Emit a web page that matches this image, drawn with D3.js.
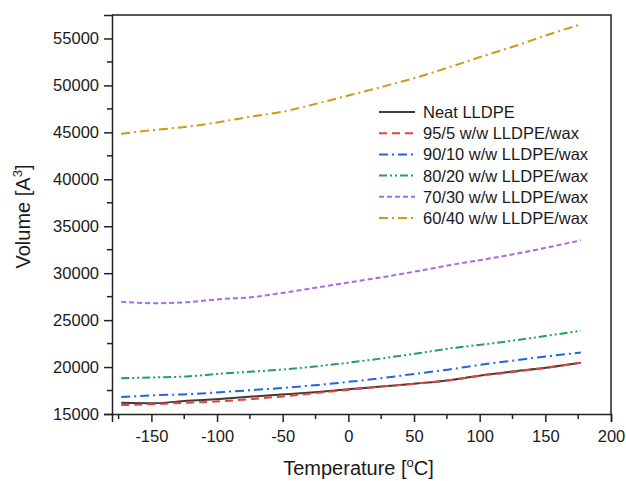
<!DOCTYPE html>
<html>
<head>
<meta charset="utf-8">
<script src="https://cdn.jsdelivr.net/npm/d3@7"></script>
<style>
  html, body { margin: 0; padding: 0; background: #fff; }
  svg { display: block; font-family: "Liberation Sans", Arial, sans-serif; }
</style>
</head>
<body>
<svg id="chart" width="626" height="481"></svg>
<script>
// Temperature grid (100 K to 450 K, in °C)
const temps = [-173, -148, -123, -98, -73, -48, -23, 2, 27, 52, 77, 102, 127, 152, 177];

// Cell volume (Å^3) for each blend
const neat = [16200, 16150, 16400, 16600, 16860, 17100, 17350, 17650, 17950, 18250, 18600, 19130, 19550, 19950, 20450];
const w95  = [15950, 16050, 16200, 16350, 16600, 16900, 17250, 17600, 17950, 18250, 18600, 19100, 19500, 19950, 20450];
const w90  = [16800, 17000, 17100, 17320, 17550, 17800, 18100, 18450, 18850, 19300, 19750, 20270, 20720, 21150, 21550];
const w80  = [18800, 18900, 19000, 19280, 19520, 19760, 20100, 20500, 20950, 21450, 21980, 22400, 22850, 23350, 23870];
const w70  = [26950, 26800, 26900, 27230, 27450, 27950, 28500, 29050, 29600, 30200, 30850, 31430, 32050, 32750, 33500];
const w60  = [44850, 45250, 45600, 46100, 46700, 47250, 48100, 49000, 49900, 50850, 51950, 53100, 54200, 55400, 56500];

const seriesLabels = ["Neat LLDPE", "95/5 w/w LLDPE/wax", "90/10 w/w LLDPE/wax",
                      "80/20 w/w LLDPE/wax", "70/30 w/w LLDPE/wax", "60/40 w/w LLDPE/wax"];
const seriesValues = [neat, w95, w90, w80, w70, w60];

const xTicks = [-150, -100, -50, 0, 50, 100, 150, 200];
const yTicks = [15000, 20000, 25000, 30000, 35000, 40000, 45000, 50000, 55000];

// Line styling per series
const styles = [
  { color: "#3c3c3c", dash: null },
  { color: "#e8423f", dash: "8,5" },
  { color: "#1f66e0", dash: "9,4,2,4" },
  { color: "#23a05a", dash: "8,3,2,3,2,3" },
  { color: "#a86be3", dash: "5,3" },
  { color: "#d09a12", dash: "9,4,2,4" }
];

const margin = { left: 112, right: 15, top: 15, bottom: 67 };
const W = 626, H = 481;
const svg = d3.select("#chart");

const x = d3.scaleLinear().domain([-180, 200]).range([margin.left, W - margin.right]);
const y = d3.scaleLinear().domain([15000, 57500]).range([H - margin.bottom, margin.top]);

const axisColor = "#222";
const fontSize = "16.5px";

// Data lines
const line = d3.line().x((d, i) => x(temps[i])).y(d => y(d)).curve(d3.curveMonotoneX);
const plot = svg.append("g");
seriesValues.forEach((vals, k) => {
  plot.append("path")
    .datum(vals)
    .attr("d", line)
    .attr("fill", "none")
    .attr("stroke", styles[k].color)
    .attr("stroke-width", 2)
    .attr("stroke-dasharray", styles[k].dash);
});

// Frame (top and right borders)
svg.append("path")
  .attr("d", `M${x(-180)},${y(57500)}H${x(200)}V${y(15000)}`)
  .attr("fill", "none").attr("stroke", axisColor).attr("stroke-width", 1.5);

// Bottom axis
const xAxis = d3.axisBottom(x).tickValues(xTicks).tickSize(8).tickPadding(8).tickFormat(d3.format("d"));
const gx = svg.append("g").attr("transform", `translate(0,${y(15000)})`).call(xAxis);
const xMinor = d3.range(-175, 200, 50);
gx.selectAll(".minor").data(xMinor).enter().append("line")
  .attr("x1", d => x(d)).attr("x2", d => x(d)).attr("y1", 0).attr("y2", 5)
  .attr("stroke", axisColor).attr("stroke-width", 1.5);

// Left axis
const yAxis = d3.axisLeft(y).tickValues(yTicks).tickSize(8).tickPadding(5).tickFormat(d3.format("d"));
const gy = svg.append("g").attr("transform", `translate(${x(-180)},0)`).call(yAxis);
const yMinor = d3.range(17500, 57500, 5000);
gy.selectAll(".minor").data(yMinor).enter().append("line")
  .attr("y1", d => y(d)).attr("y2", d => y(d)).attr("x1", 0).attr("x2", -5)
  .attr("stroke", axisColor).attr("stroke-width", 1.5);

[gx, gy].forEach(g => {
  g.select(".domain").attr("stroke", axisColor).attr("stroke-width", 1.5);
  g.selectAll(".tick line").attr("stroke", axisColor).attr("stroke-width", 1.5);
  g.selectAll(".tick text").attr("fill", "#1a1a1a").style("font-size", fontSize)
    .style("font-family", "'Liberation Sans', Arial, sans-serif");
});
gx.selectAll(".tick text").text(d => d < 0 ? "-" + Math.abs(d) : String(d));

// Axis titles
const xt = svg.append("text")
  .attr("x", (x(-180) + x(200)) / 2 - 3).attr("y", 475)
  .attr("text-anchor", "middle").attr("fill", "#1a1a1a").style("font-size", "20px");
xt.append("tspan").text("Temperature [");
xt.append("tspan").text("o").style("font-size", "13px").attr("dy", -8);
xt.append("tspan").text("C]").attr("dy", 8);

const yt = svg.append("text")
  .attr("transform", `translate(30,${(y(15000) + y(57500)) / 2 + 2}) rotate(-90)`)
  .attr("text-anchor", "middle").attr("fill", "#1a1a1a").style("font-size", "20px");
yt.append("tspan").text("Volume [A");
yt.append("tspan").text("3").style("font-size", "13px").attr("dy", -8);
yt.append("tspan").text("]").attr("dy", 8);

// Legend
const legend = svg.append("g").attr("transform", "translate(379,112)");
seriesLabels.forEach((lab, k) => {
  const row = legend.append("g").attr("transform", `translate(0,${k * 21.2})`);
  row.append("line").attr("x1", 0).attr("x2", 36).attr("y1", 0).attr("y2", 0)
    .attr("stroke", styles[k].color).attr("stroke-width", 2)
    .attr("stroke-dasharray", styles[k].dash);
  row.append("text").attr("x", 44).attr("y", 6).attr("fill", "#1a1a1a")
    .style("font-size", fontSize).text(lab);
});
</script>
</body>
</html>
